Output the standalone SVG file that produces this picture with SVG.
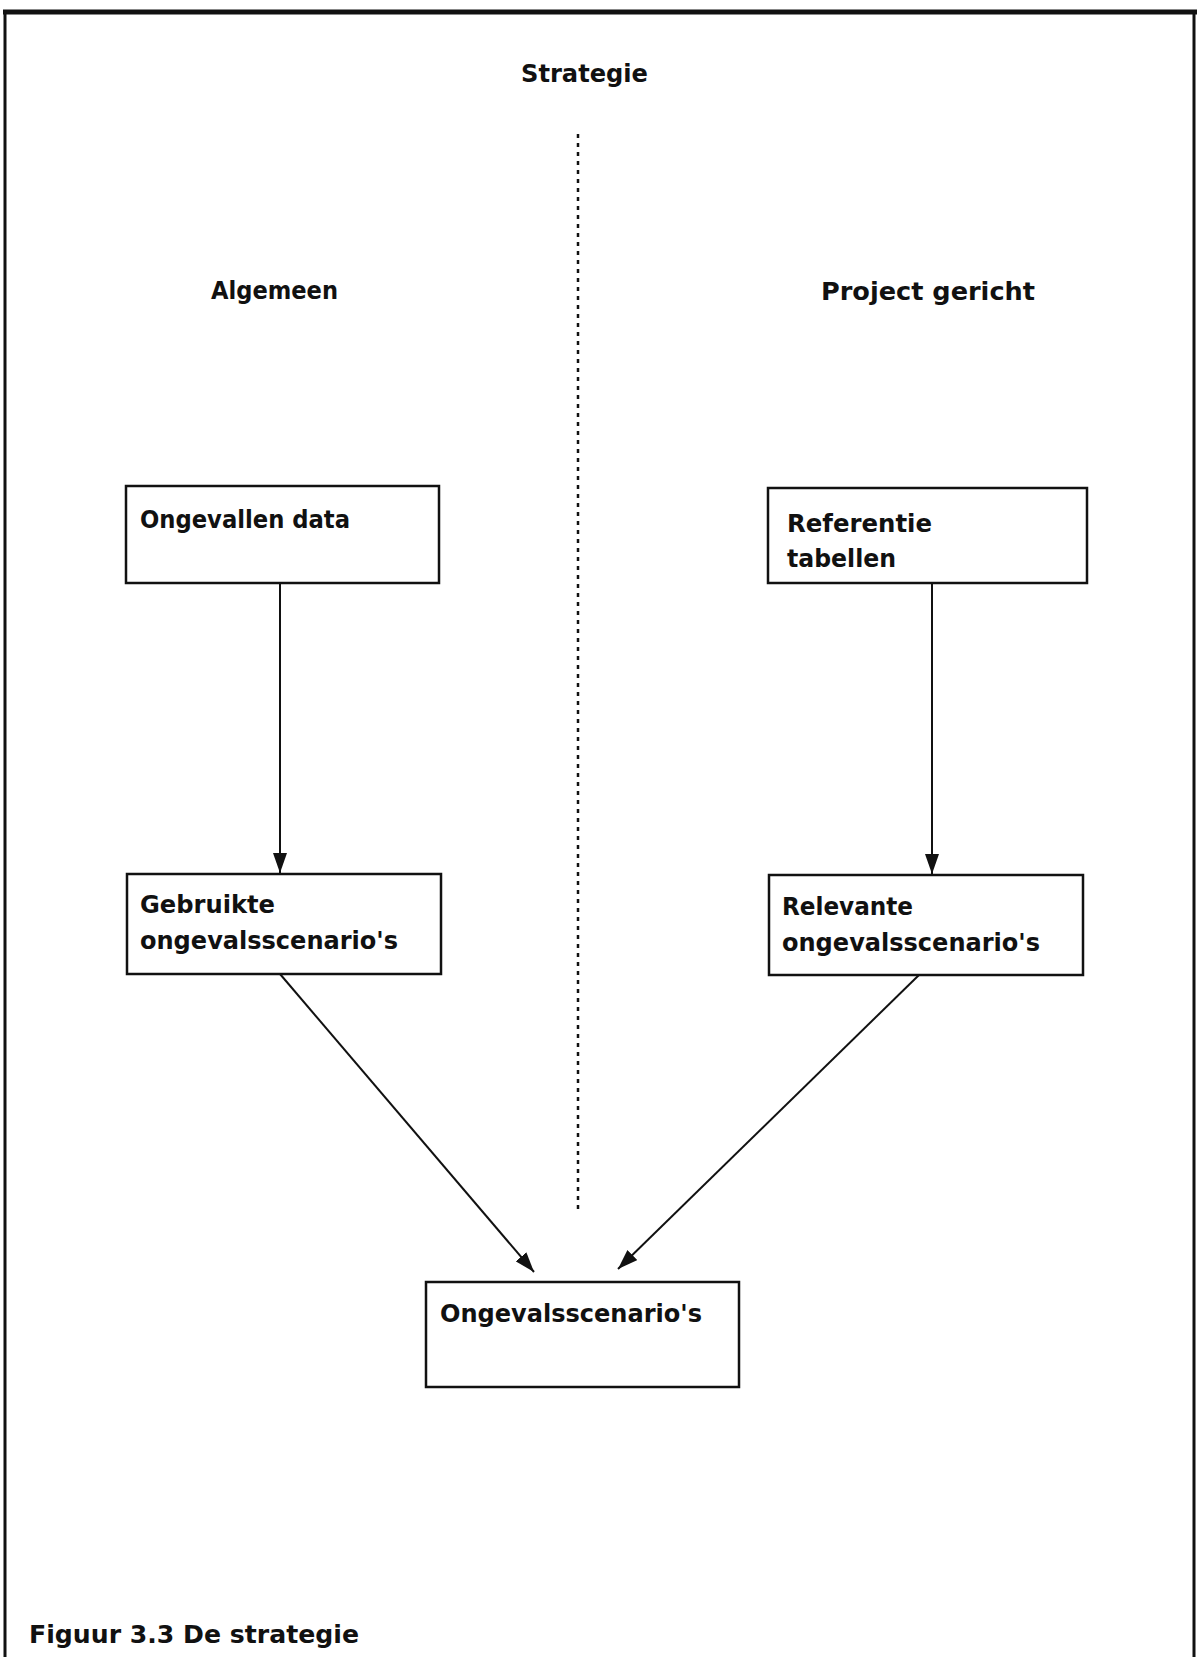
<svg xmlns="http://www.w3.org/2000/svg" width="1197" height="1657" viewBox="0 0 1197 1657">
<style>
.t{font-family:"DejaVu Sans Condensed","DejaVu Sans",sans-serif;font-weight:bold;font-size:25px;fill:#111}
.box{fill:#fff;stroke:#111;stroke-width:2.5}
.c{stroke:#111;stroke-width:2;fill:none}
</style>
<defs>
<marker id="ah" viewBox="0 0 20 14" refX="20" refY="7" markerWidth="20" markerHeight="14" markerUnits="userSpaceOnUse" orient="auto">
<path d="M0,0 L20,7 L0,14 Z" fill="#111"/>
</marker>
</defs>
<rect width="1197" height="1657" fill="#fff"/>
<g id="frame">
<line x1="3" y1="12" x2="1197" y2="12" stroke="#111" stroke-width="5"/>
<line x1="5" y1="10" x2="5" y2="1657" stroke="#111" stroke-width="3"/>
<line x1="1194" y1="10" x2="1194" y2="1657" stroke="#111" stroke-width="3"/>
</g>
<g id="labels">
<text class="t" x="521" y="82" textLength="127" lengthAdjust="spacingAndGlyphs">Strategie</text>
<text class="t" x="211" y="299" textLength="127" lengthAdjust="spacingAndGlyphs">Algemeen</text>
<text class="t" x="821" y="300" textLength="214" lengthAdjust="spacingAndGlyphs">Project gericht</text>
<text class="t" x="29" y="1643" textLength="330" lengthAdjust="spacingAndGlyphs">Figuur 3.3 De strategie</text>
</g>
<g id="connectors">
<line x1="578" y1="134" x2="578" y2="1214" stroke="#111" stroke-width="2.5" stroke-dasharray="4,5"/>
<line class="c" x1="280" y1="583" x2="280" y2="873" marker-end="url(#ah)"/>
<line class="c" x1="932" y1="583" x2="932" y2="874" marker-end="url(#ah)"/>
<line class="c" x1="280" y1="974" x2="534" y2="1272" stroke-width="2.5" marker-end="url(#ah)"/>
<line class="c" x1="919" y1="975" x2="618" y2="1269" stroke-width="2.5" marker-end="url(#ah)"/>
</g>
<g id="n1">
<rect class="box" x="126" y="486" width="313" height="97"/>
<text class="t" x="140" y="528" textLength="210" lengthAdjust="spacingAndGlyphs">Ongevallen data</text>
</g>
<g id="n2">
<rect class="box" x="768" y="488" width="319" height="95"/>
<text class="t" x="787" y="532" textLength="145" lengthAdjust="spacingAndGlyphs">Referentie</text>
<text class="t" x="787" y="567" textLength="109" lengthAdjust="spacingAndGlyphs">tabellen</text>
</g>
<g id="n3">
<rect class="box" x="127" y="874" width="314" height="100"/>
<text class="t" x="140" y="913" textLength="135" lengthAdjust="spacingAndGlyphs">Gebruikte</text>
<text class="t" x="140" y="949" textLength="258" lengthAdjust="spacingAndGlyphs">ongevalsscenario's</text>
</g>
<g id="n4">
<rect class="box" x="769" y="875" width="314" height="100"/>
<text class="t" x="782" y="915" textLength="131" lengthAdjust="spacingAndGlyphs">Relevante</text>
<text class="t" x="782" y="951" textLength="258" lengthAdjust="spacingAndGlyphs">ongevalsscenario's</text>
</g>
<g id="n5">
<rect class="box" x="426" y="1282" width="313" height="105"/>
<text class="t" x="440" y="1322" textLength="262" lengthAdjust="spacingAndGlyphs">Ongevalsscenario's</text>
</g>
</svg>
